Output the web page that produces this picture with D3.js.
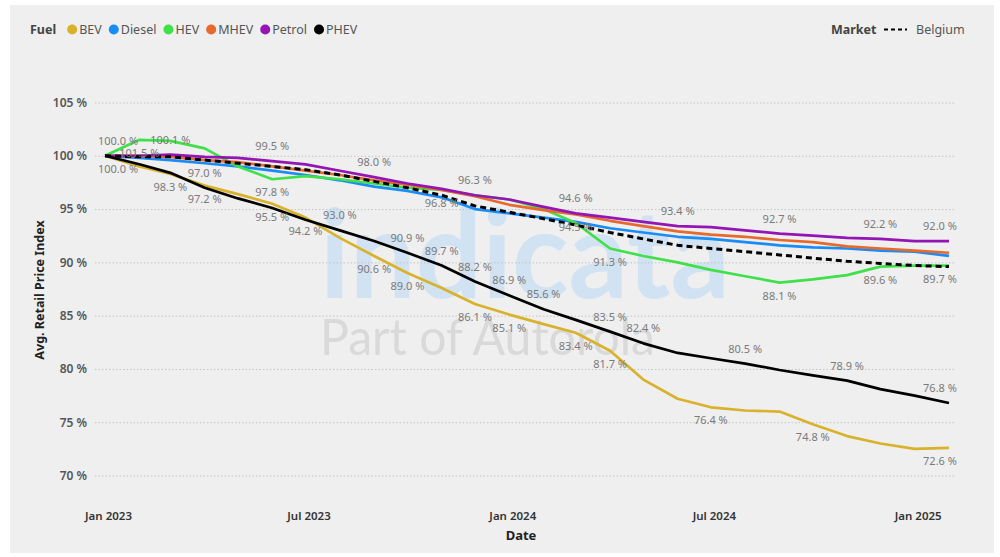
<!DOCTYPE html>
<html>
<head>
<meta charset="utf-8">
<script src="https://cdn.jsdelivr.net/npm/d3@7"></script>
<style>
  body { margin: 0; background: #fff; }
  svg { display: block; font-family: "Noto Sans", "Open Sans", sans-serif; }
</style>
</head>
<body>
<svg id="canvas"></svg>
<script>
// monthly index, Jan 2023 = 100
let months = ["2023-01","2023-02","2023-03","2023-04","2023-05","2023-06","2023-07","2023-08","2023-09","2023-10","2023-11","2023-12",
              "2024-01","2024-02","2024-03","2024-04","2024-05","2024-06","2024-07","2024-08","2024-09","2024-10","2024-11","2024-12",
              "2025-01","2025-02"]

let bev    = [100.0, 99.0, 98.3, 97.2, 96.4, 95.5, 94.2, 92.3, 90.6, 89.0, 87.6, 86.1, 85.1, 84.2, 83.4, 81.7, 79.0, 77.2, 76.4, 76.1, 76.0, 74.8, 73.7, 73.0, 72.5, 72.6]
let diesel = [100.0, 99.8, 99.6, 99.3, 99.0, 98.6, 98.2, 97.7, 97.1, 96.7, 96.1, 95.0, 94.6, 94.2, 93.8, 93.2, 92.8, 92.4, 92.2, 91.9, 91.6, 91.4, 91.3, 91.1, 91.0, 90.6]
let hev    = [100.0, 101.5, 101.4, 100.7, 99.0, 97.8, 98.1, 97.8, 97.4, 97.0, 96.8, 96.3, 95.9, 95.0, 93.7, 91.3, 90.6, 90.0, 89.3, 88.7, 88.1, 88.4, 88.8, 89.6, 89.7, 89.7]
let mhev   = [100.0, 100.0, 99.9, 99.6, 99.4, 99.0, 98.6, 98.2, 97.7, 97.3, 96.8, 96.2, 95.4, 94.9, 94.5, 93.9, 93.4, 92.9, 92.6, 92.4, 92.1, 91.9, 91.5, 91.3, 91.1, 90.9]
let petrol = [100.0, 100.0, 100.1, 99.9, 99.8, 99.5, 99.2, 98.6, 98.0, 97.4, 96.9, 96.3, 95.9, 95.2, 94.6, 94.2, 93.8, 93.4, 93.3, 93.0, 92.7, 92.5, 92.3, 92.2, 92.0, 92.0]
let phev   = [100.0, 99.2, 98.4, 97.0, 96.0, 95.1, 94.0, 93.0, 92.0, 90.9, 89.7, 88.2, 86.9, 85.6, 84.6, 83.5, 82.4, 81.5, 81.0, 80.5, 79.9, 79.4, 78.9, 78.1, 77.5, 76.8]
let market = [100.0, 99.9, 99.9, 99.6, 99.3, 99.0, 98.7, 98.2, 97.6, 97.0, 96.3, 95.3, 94.7, 94.1, 93.5, 92.8, 92.2, 91.6, 91.3, 91.0, 90.7, 90.4, 90.1, 89.9, 89.7, 89.6]

// which months carry a data label
let bevLabels    = [0, 2, 3, 5, 6, 8, 9, 11, 12, 14, 15, 18, 21, 25]
let dieselLabels = []
let hevLabels    = [1, 5, 15, 20, 23, 25]
let mhevLabels   = [10, 14]
let petrolLabels = [2, 5, 8, 11, 14, 17, 20, 23, 25]
let phevLabels   = [0, 3, 7, 9, 10, 11, 12, 13, 15, 16, 19, 22, 25]

let yTicks = [70, 75, 80, 85, 90, 95, 100, 105]
let xTicks = ["2023-01", "2023-07", "2024-01", "2024-07", "2025-01"]

let width = 1000
let height = 557

let parseMonth = d3.timeParse('%Y-%m')
let dates = months.map(parseMonth)

let fuels = [
  {name: 'BEV',    values: bev,    labels: bevLabels,    color: '#d9b22c', pos: 'below'},
  {name: 'Diesel', values: diesel, labels: dieselLabels, color: '#1a8cf5', pos: 'below'},
  {name: 'HEV',    values: hev,    labels: hevLabels,    color: '#3fe04a', pos: 'below'},
  {name: 'MHEV',   values: mhev,   labels: mhevLabels,   color: '#e8692c', pos: 'below'},
  {name: 'Petrol', values: petrol, labels: petrolLabels, color: '#9414b4', pos: 'above'},
  {name: 'PHEV',   values: phev,   labels: phevLabels,   color: '#000000', pos: 'above'}
]

let svg = d3.select('#canvas')
  .attr('width', width)
  .attr('height', height)

svg.append('rect')
  .attr('x', 10).attr('y', 5)
  .attr('width', 984).attr('height', 548)
  .attr('fill', '#efefef')

let xScale = d3.scaleTime()
  .domain([dates[0], dates[dates.length - 1]])
  .range([105, 949])

let yScale = d3.scaleLinear()
  .domain([70, 105])
  .range([475.5, 102.5])

// watermark
svg.append('text')
  .attr('x', 320).attr('y', 298)
  .attr('textLength', 410)
  .attr('lengthAdjust', 'spacingAndGlyphs')
  .attr('font-family', 'Lato, sans-serif')
  .attr('font-weight', 'bold')
  .attr('font-size', 122)
  .attr('fill', '#d1e2f2')
  .text('indicata')

svg.append('text')
  .attr('x', 320).attr('y', 355)
  .attr('textLength', 335)
  .attr('lengthAdjust', 'spacingAndGlyphs')
  .attr('font-family', 'Lato, sans-serif')
  .attr('font-size', 50)
  .attr('fill', '#d9d9d9')
  .text('Part of Autorola')

// grid + y ticks
let yAxis = d3.axisLeft(yScale)
  .tickValues(yTicks)
  .tickSize(-860)
  .tickPadding(8)
  .tickFormat((d) => d + ' %')

let yG = svg.append('g')
  .attr('transform', 'translate(95,0)')
  .call(yAxis)

yG.select('.domain').remove()
yG.selectAll('line')
  .attr('stroke', '#c4c4c4')
  .attr('stroke-width', 1)
  .attr('stroke-dasharray', '1.5,2')
yG.selectAll('text')
  .attr('font-size', 12)
  .attr('font-weight', 600)
  .attr('fill', '#555')
  .attr('font-family', '"Noto Sans", sans-serif')

let xAxis = d3.axisBottom(xScale)
  .tickValues(xTicks.map(parseMonth))
  .tickSize(0)
  .tickPadding(0)
  .tickFormat(d3.timeFormat('%b %Y'))

let xG = svg.append('g')
  .attr('transform', 'translate(3,512)')
  .call(xAxis)

xG.select('.domain').remove()
xG.selectAll('text')
  .attr('font-size', 11.5)
  .attr('font-weight', 600)
  .attr('fill', '#333')
  .attr('font-family', '"Noto Sans", sans-serif')

// axis titles
svg.append('text')
  .attr('transform', 'translate(44,290) rotate(-90)')
  .attr('text-anchor', 'middle')
  .attr('font-size', 12.5)
  .attr('font-weight', 'bold')
  .attr('fill', '#222')
  .text('Avg. Retail Price Index')

svg.append('text')
  .attr('x', 521).attr('y', 540)
  .attr('text-anchor', 'middle')
  .attr('font-size', 13)
  .attr('font-weight', 'bold')
  .attr('fill', '#222')
  .text('Date')

// lines
let line = (vals) => d3.line()
  .x((d, i) => xScale(dates[i]))
  .y((d) => yScale(d))(vals)

svg.selectAll('path.fuel')
  .data(fuels)
  .enter()
  .append('path')
  .attr('class', 'fuel')
  .attr('d', (f) => line(f.values))
  .attr('fill', 'none')
  .attr('stroke', (f) => f.color)
  .attr('stroke-width', 2.7)
  .attr('stroke-linejoin', 'round')

svg.append('path')
  .attr('d', line(market))
  .attr('fill', 'none')
  .attr('stroke', '#000')
  .attr('stroke-width', 3)
  .attr('stroke-dasharray', '6,4')

// data labels
let labelData = []
fuels.forEach((f) => {
  f.labels.forEach((i) => {
    labelData.push({i: i, v: f.values[i], pos: f.pos})
  })
})

svg.selectAll('text.lbl')
  .data(labelData)
  .enter()
  .append('text')
  .attr('class', 'lbl')
  .attr('x', (d) => {
    let x = xScale(dates[d.i])
    if (d.i === 0) x += 13
    if (d.i === dates.length - 1) x -= 9
    return x
  })
  .attr('y', (d) => yScale(d.v) + (d.pos === 'above' ? -11 : 17))
  .attr('text-anchor', 'middle')
  .attr('font-size', 11)
  .attr('fill', '#7a7a7a')
  .text((d) => d.v.toFixed(1) + ' %')

// legend
let legend = svg.append('g').attr('transform', 'translate(30,34)')
let title = legend.append('text')
  .attr('x', 0).attr('y', 0)
  .attr('font-size', 12.5)
  .attr('font-weight', 'bold')
  .attr('fill', '#444')
  .text('Fuel')
let lx = title.node().getComputedTextLength() + 16

fuels.forEach((f) => {
  legend.append('circle')
    .attr('cx', lx).attr('cy', -4.5)
    .attr('r', 5)
    .attr('fill', f.color)
  let t = legend.append('text')
    .attr('x', lx + 7).attr('y', 0)
    .attr('font-size', 12.5)
    .attr('fill', '#555')
    .text(f.name)
  lx += 7 + t.node().getComputedTextLength() + 12
})

let mk = svg.append('g').attr('transform', 'translate(831,34)')
mk.append('text')
  .attr('x', 0).attr('y', 0)
  .attr('font-size', 12.5)
  .attr('font-weight', 'bold')
  .attr('fill', '#444')
  .text('Market')
mk.append('line')
  .attr('x1', 53).attr('x2', 76)
  .attr('y1', -4.5).attr('y2', -4.5)
  .attr('stroke', '#000')
  .attr('stroke-width', 2)
  .attr('stroke-dasharray', '4,3')
mk.append('text')
  .attr('x', 85).attr('y', 0)
  .attr('font-size', 12.5)
  .attr('fill', '#555')
  .text('Belgium')
</script>
</body>
</html>
